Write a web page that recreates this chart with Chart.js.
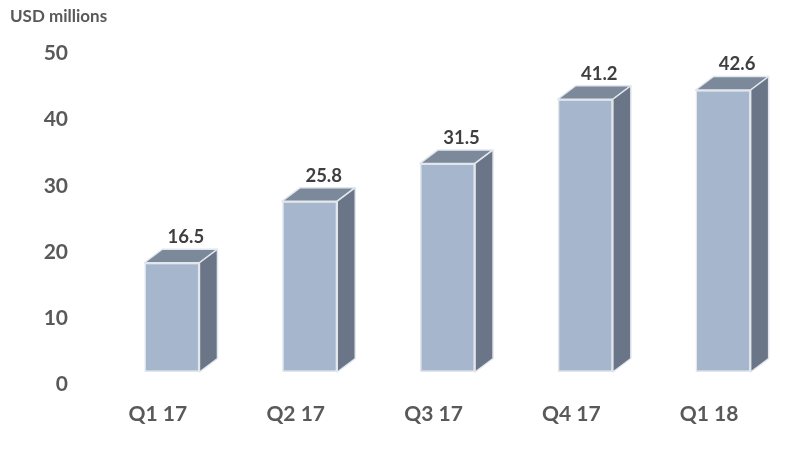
<!DOCTYPE html>
<html>
<head>
<meta charset="utf-8">
<style>
  html, body { margin: 0; padding: 0; background: #fff; }
  #wrap { width: 792px; height: 453px; }
</style>
</head>
<body>
<div id="wrap">
  <canvas id="rev-chart"></canvas>
</div>

<script src="https://cdn.jsdelivr.net/npm/chart.js"></script>

<script>
  // quarterly figures, USD millions
  const quarters = ['Q1 17', 'Q2 17', 'Q3 17', 'Q4 17', 'Q1 18']
  const revenue = [16.5, 25.8, 31.5, 41.2, 42.6]
  const yTicks = [0, 10, 20, 30, 40, 50]

  const FONT = 'Lato, "Open Sans", sans-serif'
  const DEPTH_X = 18
  const DEPTH_Y = 13.5

  // fake 3d: top + side faces drawn off each bar, then the value label
  const boxes3d = {
    id: 'boxes3d',
    afterDatasetsDraw(chart) {
      const c = chart.ctx
      const meta = chart.getDatasetMeta(0)
      meta.data.forEach((bar, i) => {
        const { x, y, base, width } = bar.getProps(['x', 'y', 'base', 'width'], true)
        const l = x - width / 2
        const r = x + width / 2

        c.save()
        c.lineWidth = 1.5
        c.strokeStyle = '#e2e7ee'
        c.lineJoin = 'round'

        // top
        c.beginPath()
        c.moveTo(l, y)
        c.lineTo(r, y)
        c.lineTo(r + DEPTH_X, y - DEPTH_Y)
        c.lineTo(l + DEPTH_X, y - DEPTH_Y)
        c.closePath()
        c.fillStyle = '#7c899b'
        c.fill()
        c.stroke()

        // side
        c.beginPath()
        c.moveTo(r, y)
        c.lineTo(r + DEPTH_X, y - DEPTH_Y)
        c.lineTo(r + DEPTH_X, base - DEPTH_Y)
        c.lineTo(r, base)
        c.closePath()
        c.fillStyle = '#6a7688'
        c.fill()
        c.stroke()

        // value
        c.fillStyle = '#3f3f3f'
        c.font = 'bold 18.5px ' + FONT
        c.textAlign = 'center'
        c.textBaseline = 'alphabetic'
        c.fillText(revenue[i].toFixed(1), x + 14, y - DEPTH_Y - 6)
        c.restore()
      })
    }
  }

  const ctx = document.getElementById('rev-chart').getContext('2d')
  const chart = new Chart(ctx, {
    type: 'bar',
    data: {
      labels: quarters,
      datasets: [{
        label: 'Revenue',
        data: revenue,
        backgroundColor: '#a6b6cc',
        borderColor: '#e2e7ee',
        borderWidth: 1.5,
        borderSkipped: false,
        barPercentage: 0.4,
        categoryPercentage: 1,
      }]
    },
    options: {
      responsive: true,
      maintainAspectRatio: false,
      animation: false,
      layout: { padding: { top: 6, left: 10, right: 0, bottom: 0 } },
      plugins: {
        legend: { display: false },
        tooltip: { enabled: false },
        title: {
          display: true,
          text: 'USD millions',
          align: 'start',
          color: '#595959',
          font: { family: FONT, size: 17, weight: 'bold' },
          padding: { top: 0, bottom: 14.6 },
        },
      },
      scales: {
        x: {
          grid: { display: false, drawTicks: false },
          border: { display: false },
          ticks: {
            color: '#595959',
            font: { family: FONT, size: 21, weight: 'bold' },
            padding: 30,
            labelOffset: -14,
            maxRotation: 0,
          },
          afterFit: s => { s.height = 81 },
        },
        y: {
          min: yTicks[0],
          max: yTicks[yTicks.length - 1],
          afterBuildTicks: s => { s.ticks = yTicks.map(v => ({ value: v })) },
          grid: { display: false, drawTicks: false },
          border: { display: false },
          ticks: {
            color: '#595959',
            font: { family: FONT, size: 21, weight: 'bold' },
            padding: 35,
            labelOffset: 12.5,
          },
          afterFit: s => {
            s.width = 93
            // big tick padding should not push the plot area down
            s.paddingTop = 0
            s.paddingBottom = 0
          },
        },
      },
    },
    plugins: [boxes3d],
  })
</script>
</body>
</html>
